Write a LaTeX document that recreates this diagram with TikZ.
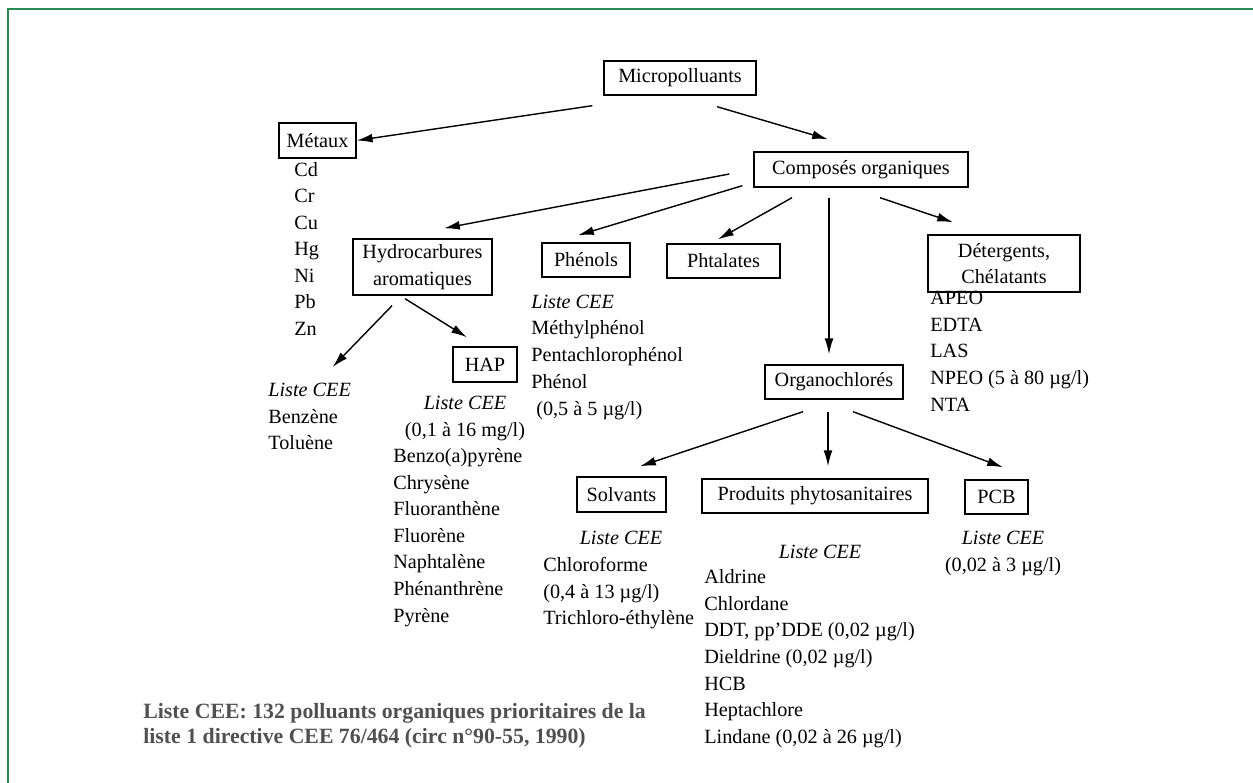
\documentclass[tikz,border=0pt]{standalone}
\usepackage{fontspec}
\setmainfont{Liberation Serif}
\usetikzlibrary{arrows.meta}
\definecolor{framegreen}{RGB}{38,139,84}
\definecolor{notegray}{RGB}{80,80,80}
\begin{document}
\begin{tikzpicture}[x=0.02cm, y=-0.02cm,
    box/.style={draw, line width=0.8pt, inner sep=2pt, align=center},
    arr/.style={-{Latex[length=9pt,width=5pt]}, line width=0.8pt},
    item/.style={anchor=west, inner sep=0pt, text height=1.4ex, text depth=0pt},
    cee/.style={item, font=\itshape},
    note/.style={item, font=\fontsize{12.4}{15}\selectfont\bfseries, text=notegray}]
    \fontsize{11.5}{15}\selectfont
    \useasboundingbox (0,0) rectangle (1253,783);
    \draw[framegreen, line width=1.1pt] (8,783) -- (8,9) -- (1253,9);
    \node[box, minimum width=3.04cm, minimum height=0.68cm] (micro) at (680,78) {Micropolluants};
    \node[box, minimum width=1.54cm, minimum height=0.70cm] (metaux) at (317.5,140.5) {Métaux};
    \node[box, minimum width=4.28cm, minimum height=0.70cm] (compo) at (861,169.5) {Composés organiques};
    \node[box, minimum width=2.78cm, minimum height=1.12cm] (hydro) at (422.5,267) {Hydrocarbures\\aromatiques};
    \node[box, minimum width=1.76cm, minimum height=0.68cm] (phenols) at (586,260) {Phénols};
    \node[box, minimum width=2.26cm, minimum height=0.68cm] (phtal) at (723.5,261) {Phtalates};
    \node[box, minimum width=3.04cm, minimum height=1.14cm] (deter) at (1004,263.5) {Détergents,\\Chélatants};
    \node[box, minimum width=1.28cm, minimum height=0.70cm] (hap) at (485,364.5) {HAP};
    \node[box, minimum width=2.76cm, minimum height=0.68cm] (organo) at (834,382) {Organochlorés};
    \node[box, minimum width=1.78cm, minimum height=0.70cm] (solv) at (621.5,494.5) {Solvants};
    \node[box, minimum width=4.52cm, minimum height=0.68cm] (prod) at (815,496) {Produits phytosanitaires};
    \node[box, minimum width=1.26cm, minimum height=0.68cm] (pcb) at (996.5,497) {PCB};
    \foreach \t [count=\i] in {Cd,Cr,Cu,Hg,Ni,Pb,Zn}
      \node[item] (met\i) at (294,{143.5+26.5*\i}) {\t};
    \node[cee] (hclist) at (268,390) {Liste CEE};
    \foreach \t [count=\i] in {Benzène,Toluène}
      \node[item] (hc\i) at (268,{390.5+26.5*\i}) {\t};
    \node[cee, anchor=center] (haplist) at (465,403) {Liste CEE};
    \node[item, anchor=center] (hapconc) at (465,430) {(0,1 à 16 mg/l)};
    \foreach \t [count=\i] in {Benzo(a)pyrène,Chrysène,Fluoranthène,Fluorène,Naphtalène,Phénanthrène,Pyrène}
      \node[item] (hp\i) at (393,{429.4+26.6*\i}) {\t};
    \node[cee] (phlist) at (531,302) {Liste CEE};
    \foreach \t [count=\i] in {Méthylphénol,Pentachlorophénol,Phénol}
      \node[item] (ph\i) at (531,{301.5+26.7*\i}) {\t};
    \node[item] (phconc) at (536,409) {(0,5 à 5 µg/l)};
    \foreach \t [count=\i] in {APEO,EDTA,LAS,NPEO (5 à 80 µg/l),NTA}
      \node[item] (det\i) at (930,{271.3+26.7*\i}) {\t};
    \node[cee, anchor=center] (svlist) at (621,538) {Liste CEE};
    \foreach \t [count=\i] in {Chloroforme,{(0,4 à 13 µg/l)},Trichloro-éthylène}
      \node[item] (sv\i) at (543,{538.3+26.7*\i}) {\t};
    \node[cee, anchor=center] (prlist) at (820,552) {Liste CEE};
    \foreach \t [count=\i] in {Aldrine,Chlordane,{DDT, pp’DDE (0,02 µg/l)},{Dieldrine (0,02 µg/l)},HCB,Heptachlore,{Lindane (0,02 à 26 µg/l)}}
      \node[item] (pr\i) at (704,{550.3+26.7*\i}) {\t};
    \node[cee, anchor=center] (pclist) at (1003,538) {Liste CEE};
    \node[item, anchor=center] (pcconc) at (1003,565) {(0,02 à 3 µg/l)};
    \node[note] (note1) at (143,712) {Liste CEE: 132 polluants organiques prioritaires de la};
    \node[note] (note2) at (143,737) {liste 1 directive CEE 76/464 (circ n°90-55, 1990)};
    \draw[arr] ([shift={(-11,10)}]micro.south west) -- (metaux.east);
    \draw[arr] ([shift={(37,11)}]micro.south) -- ([shift={(-33,-12)}]compo.north);
    \draw[arr] ([shift={(-24,4.5)}]compo.west) -- ([shift={(21.5,-10)}]hydro.north);
    \draw[arr] ([shift={(-11,-2)}]compo.south west) -- ([shift={(-8,-7)}]phenols.north);
    \draw[arr] ([shift={(-69,10)}]compo.south) -- ([shift={(-5.5,-4)}]phtal.north);
    \draw[arr] ([shift={(-32,10)}]compo.south) -- ([shift={(-5,-10)}]organo.north);
    \draw[arr] ([shift={(19,10)}]compo.south) -- ([shift={(-51,-12)}]deter.north);
    \draw[arr] ([shift={(-30.5,10)}]hydro.south) -- ([shift={(23,-23)}]hclist.center);
    \draw[arr] ([shift={(-17.5,3)}]hydro.south) -- ([shift={(-18,-9)}]hap.north);
    \draw[arr] ([shift={(-31,12)}]organo.south) -- ([shift={(18.5,-10)}]solv.north);
    \draw[arr] ([shift={(-6,12)}]organo.south) -- ([shift={(13,-12)}]prod.north);
    \draw[arr] ([shift={(19,12)}]organo.south) -- ([shift={(6.5,-12)}]pcb.north);
\end{tikzpicture}
\end{document}
